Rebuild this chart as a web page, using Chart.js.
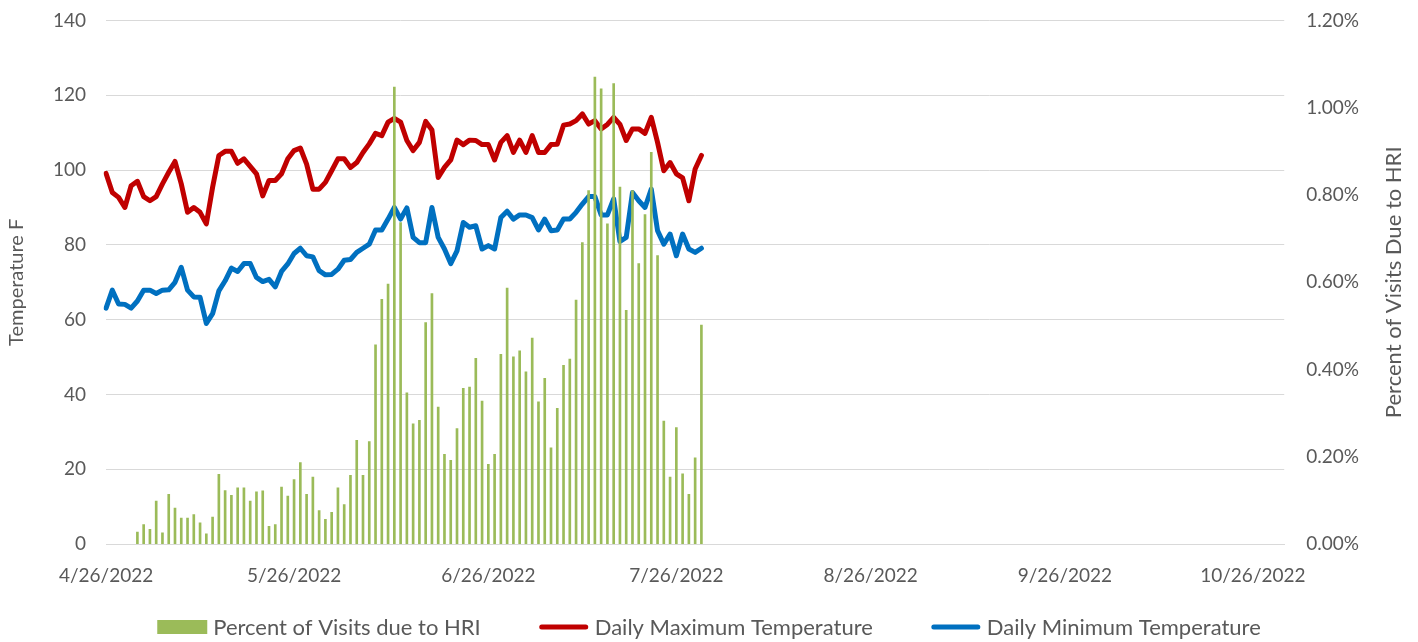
<!DOCTYPE html>
<html lang="en">
<head>
  <meta charset="UTF-8" />
  <title>HRI Visits and Daily Temperature</title>
  <script src="https://cdn.jsdelivr.net/npm/chart.js"></script>
  <style>
    body { margin: 0; background: #fff; overflow: hidden; }
    #hriChart { display: block; margin-top: -13px; }
  </style>
</head>
<body>
  <canvas id="hriChart" width="1418" height="655"></canvas>

  <script>
    // x categories: one per day, 4/26/2022 .. 10/31/2022
    const dateLabels = [];
    for (let i = 0; i < 189; i++) {
      const d = new Date(2022, 3, 26 + i);
      dateLabels.push((d.getMonth() + 1) + '/' + d.getDate() + '/' + d.getFullYear());
    }
    const tickDay = 26; // axis shows the 26th of each month

    // Percent of visits due to HRI (from 4/26/2022, daily)
    const hriPercent = [
      null, null, null, null, null, 0.028, 0.045, 0.034, 0.099, 0.026,
      0.114, 0.083, 0.060, 0.060, 0.068, 0.049, 0.024, 0.062, 0.160, 0.123,
      0.112, 0.129, 0.129, 0.099, 0.120, 0.122, 0.041, 0.045, 0.131, 0.110,
      0.148, 0.187, 0.114, 0.154, 0.077, 0.057, 0.073, 0.129, 0.091, 0.158,
      0.238, 0.158, 0.235, 0.457, 0.561, 0.596, 1.047, 0.737, 0.347, 0.276,
      0.284, 0.508, 0.574, 0.314, 0.206, 0.192, 0.265, 0.357, 0.360, 0.426,
      0.328, 0.183, 0.206, 0.435, 0.587, 0.429, 0.443, 0.395, 0.472, 0.326,
      0.380, 0.221, 0.311, 0.410, 0.424, 0.559, 0.691, 0.810, 1.070, 1.043,
      0.734, 1.055, 0.818, 0.536, 0.810, 0.643, 0.755, 0.898, 0.661, 0.282,
      0.154, 0.267, 0.161, 0.114, 0.198, 0.502
    ];

    const maxTemp = [
      99.1, 94, 92.7, 90, 95.8, 97, 92.9, 91.8, 92.9, 96.3,
      99.4, 102.3, 96.3, 88.7, 90, 88.7, 85.6, 95.4, 103.9, 105,
      105, 101.8, 103, 101, 99, 93.1, 97.2, 97.2, 99, 103,
      105.2, 105.9, 101.6, 94.9, 94.9, 96.7, 99.8, 103, 103, 100.7,
      102, 104.7, 107, 109.8, 109.2, 112.8, 113.8, 112.8, 107.9, 105.2,
      107.4, 113, 110.7, 98, 100.7, 102.7, 108, 106.8, 108, 107.9,
      106.8, 106.8, 102.7, 107.4, 109.2, 104.7, 108, 104.7, 109.2, 104.7,
      104.7, 106.8, 106.9, 112, 112.3, 113.2, 115, 112.3, 113.2, 111,
      112.2, 114.1, 112.2, 107.9, 111, 111, 109.8, 114.1, 107.4, 99.8,
      102, 99, 97.9, 91.8, 100.3, 103.9
    ];

    const minTemp = [
      63.1, 67.9, 64.2, 64.1, 63.1, 65, 67.9, 67.9, 67, 67.9,
      68, 70, 74, 67.9, 66.1, 66, 59, 61.6, 67.7, 70.4,
      73.8, 72.9, 75, 75, 71.3, 70.2, 70.8, 68.8, 72.9, 74.9,
      77.7, 79.1, 77.1, 76.8, 73.1, 72, 72.1, 73.5, 75.9, 76.1,
      78, 79.1, 80.2, 84, 84, 86.9, 90, 86.9, 89.9, 82,
      80.6, 80.6, 90, 82, 78.9, 75, 78.4, 86, 84.7, 85.1,
      78.9, 79.8, 78.9, 87.3, 89, 86.9, 88, 88, 87.3, 84,
      86.9, 83.8, 84, 86.9, 86.9, 88.7, 90.9, 92.9, 92.9, 88,
      88, 92.3, 80.9, 82, 94, 91.8, 90, 94.9, 83.8, 80.2,
      82.9, 77.1, 82.9, 78.9, 78, 79.1
    ];

    const textColor = '#595959';
    const gridColor = '#D9D9D9';
    const baseFont = { family: 'Lato', size: 19 };

    // right axis title (reads bottom-to-top) and the legend row, drawn by hand
    const extraText = {
      id: 'extraText',
      afterDraw(chart) {
        const ctx = chart.ctx;
        const area = chart.chartArea;
        ctx.save();
        ctx.fillStyle = textColor;
        ctx.font = '22px Lato';
        ctx.textAlign = 'center';
        ctx.textBaseline = 'middle';
        ctx.translate(chart.width - 24, (area.top + area.bottom) / 2);
        ctx.rotate(-Math.PI / 2);
        ctx.fillText('Percent of Visits Due to HRI', 0, 0);
        ctx.restore();

        // legend
        ctx.save();
        ctx.font = '22px Lato';
        ctx.textBaseline = 'middle';
        const boxW = 50, gap = 6, between = 58, y = chart.height - 15;
        const sets = chart.data.datasets;
        const widths = sets.map(ds => boxW + gap + ctx.measureText(ds.label).width);
        const total = widths.reduce((a, b) => a + b, 0) + between * (sets.length - 1);
        let x = (chart.width - total) / 2;
        sets.forEach((ds, i) => {
          if (ds.type === 'bar') {
            ctx.fillStyle = ds.backgroundColor;
            ctx.fillRect(x, y - 7, boxW, 14);
          } else {
            ctx.strokeStyle = ds.borderColor;
            ctx.lineWidth = 5;
            ctx.lineCap = 'round';
            ctx.beginPath();
            ctx.moveTo(x + 3, y);
            ctx.lineTo(x + boxW - 3, y);
            ctx.stroke();
          }
          ctx.fillStyle = textColor;
          ctx.fillText(ds.label, x + boxW + gap, y + 1);
          x += widths[i] + between;
        });
        ctx.restore();
      }
    };

    new Chart(document.getElementById('hriChart'), {
      data: {
        labels: dateLabels,
        datasets: [
          {
            type: 'bar',
            label: 'Percent of Visits due to HRI',
            data: hriPercent,
            yAxisID: 'y1',
            backgroundColor: '#9BBB59',
            borderWidth: 0,
            barThickness: 2,
            order: 0
          },
          {
            type: 'line',
            label: 'Daily Maximum Temperature',
            data: maxTemp,
            yAxisID: 'y',
            borderColor: '#C00000',
            backgroundColor: '#C00000',
            borderWidth: 5,
            borderCapStyle: 'round',
            borderJoinStyle: 'round',
            pointRadius: 0,
            tension: 0,
            order: 1
          },
          {
            type: 'line',
            label: 'Daily Minimum Temperature',
            data: minTemp,
            yAxisID: 'y',
            borderColor: '#0070C0',
            backgroundColor: '#0070C0',
            borderWidth: 5,
            borderCapStyle: 'round',
            borderJoinStyle: 'round',
            pointRadius: 0,
            tension: 0,
            order: 2
          }
        ]
      },
      options: {
        responsive: false,
        animation: false,
        devicePixelRatio: 1,
        layout: { padding: { top: 0, left: 5, right: 37, bottom: 35 } },
        scales: {
          x: {
            type: 'category',
            offset: false,
            grid: { display: false, drawTicks: false },
            border: { color: gridColor },
            ticks: {
              autoSkip: false,
              maxRotation: 0,
              padding: 20,
              color: textColor,
              font: baseFont,
              callback: function (value) {
                const lab = this.getLabelForValue(value);
                return lab.split('/')[1] == tickDay ? lab : '';
              }
            }
          },
          y: {
            position: 'left',
            min: 0,
            max: 140,
            ticks: { stepSize: 20, padding: 20, color: textColor, font: baseFont },
            grid: { color: gridColor, drawTicks: false },
            border: { display: false },
            title: { display: true, text: 'Temperature F', color: textColor, font: { family: 'Lato', size: 20 }, padding: { top: 0, bottom: 4 } }
          },
          y1: {
            position: 'right',
            min: 0,
            max: 1.2,
            ticks: {
              stepSize: 0.2,
              padding: 22,
              color: textColor,
              font: baseFont,
              callback: v => v.toFixed(2) + '%'
            },
            grid: { drawOnChartArea: false, drawTicks: false },
            border: { display: false }
          }
        },
        plugins: {
          legend: { display: false },
          tooltip: { enabled: false }
        }
      },
      plugins: [extraText]
    });
  </script>
</body>
</html>
